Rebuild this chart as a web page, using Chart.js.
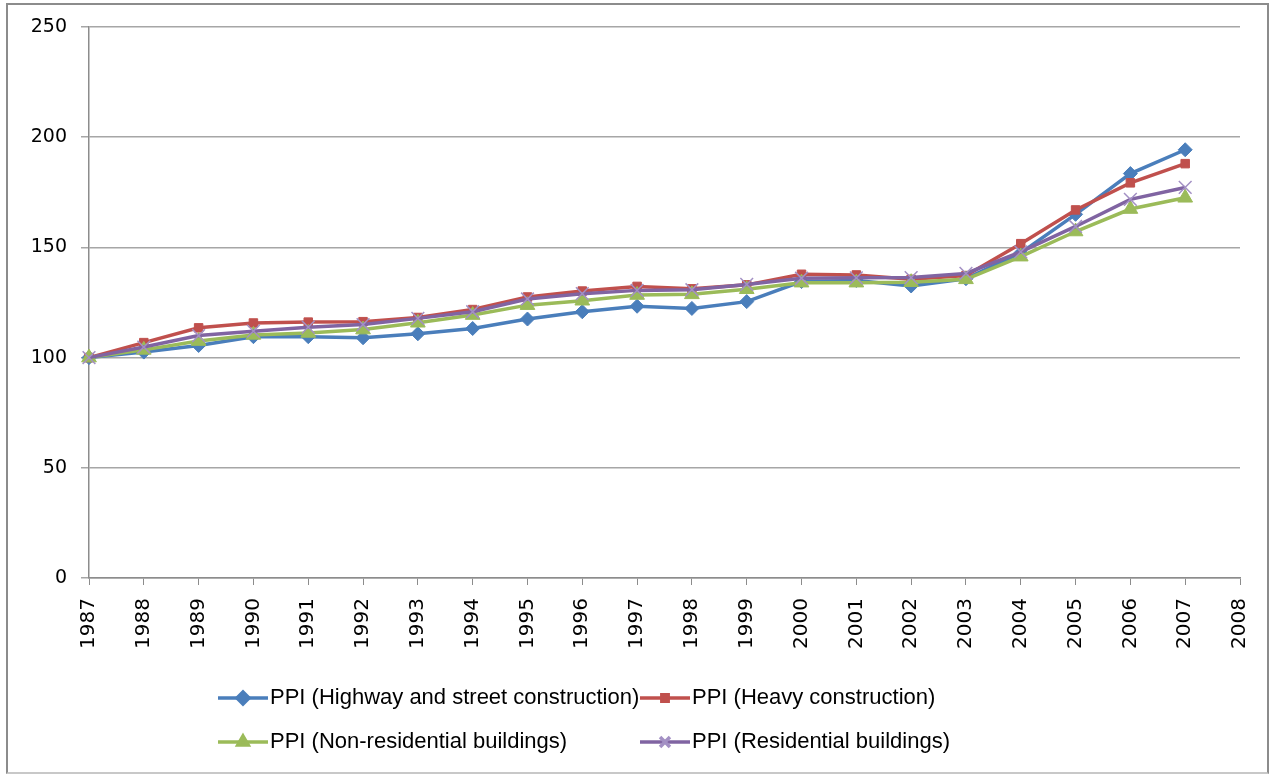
<!DOCTYPE html>
<html>
<head>
<meta charset="utf-8">
<script src="https://cdn.jsdelivr.net/npm/chart.js@4/dist/chart.umd.min.js"></script>
<style>
  html,body{margin:0;padding:0;background:#fff;}
  #wrap{position:relative;width:1270px;height:774px;}
  #frame{position:absolute;left:6px;top:3px;width:1259px;height:767px;border:2px solid #8c8c8c;border-bottom-color:#c8c8c8;pointer-events:none;}
  canvas{position:absolute;left:0;top:0;}
</style>
</head>
<body>
<div id="wrap">
  <canvas id="chart" width="1270" height="774"></canvas>
  <div id="frame"></div>
</div>
<script>
'use strict';
var years=['1987','1988','1989','1990','1991','1992','1993','1994','1995','1996','1997','1998','1999','2000','2001','2002','2003','2004','2005','2006','2007','2008'];
var highway=[100,102.5,105.5,109.5,109.5,109,110.8,113.2,117.5,120.8,123.3,122.3,125.4,134.5,135,132.5,135.8,147.5,165,183.5,194.3];
var heavy=[100,106.8,113.5,115.7,116.1,116.3,118.2,121.8,127.5,130.2,132.3,131.2,133,137.8,137.5,135.5,137.2,151.7,167,179.3,188];
var nonResidential=[100,103.5,107.5,110.3,111.2,112.7,115.8,119.3,123.8,125.8,128.4,128.7,131,134,134,134.2,135.5,145.8,157.2,167.4,172.5];
var residential=[100,104.8,110,112,113.8,115,117.8,120.8,126.6,129,130.5,130.8,133.2,136,136.2,136.3,138.2,148,159.5,171.8,177.2];
var seriesNames=['PPI (Highway and street construction)','PPI (Heavy construction)','PPI (Non-residential buildings)','PPI (Residential buildings)'];

// legend grid placement (two columns, two rows)
var legendCols=[218,640];
var legendRows=[698,742];

var gridLegend={
  id:'gridLegend',
  afterDraw:function(chart){
    var ctx=chart.ctx;
    chart.data.datasets.forEach(function(ds,i){
      var x=legendCols[i%2], y=legendRows[Math.floor(i/2)];
      ctx.save();
      ctx.strokeStyle=ds.borderColor;ctx.lineWidth=3.5;
      ctx.beginPath();ctx.moveTo(x,y);ctx.lineTo(x+50,y);ctx.stroke();
      ctx.fillStyle=ds.pointBackgroundColor;ctx.strokeStyle=ds.pointBorderColor;
      Chart.helpers.drawPoint(ctx,{pointStyle:ds.pointStyle,radius:ds.legendRadius,borderWidth:ds.pointBorderWidth,rotation:0},x+25,y);
      ctx.fillStyle='#000';ctx.font='22px "Liberation Sans"';ctx.textBaseline='middle';ctx.textAlign='left';
      ctx.fillText(ds.label,x+52,y);
      ctx.restore();
    });
  }
};

Chart.defaults.font.family='"DejaVu Sans"';
Chart.defaults.color='#000';

var ctx=document.getElementById('chart');
var chart=new Chart(ctx,{
  type:'line',
  data:{
    labels:years,
    datasets:[
      {label:seriesNames[0],data:highway,borderColor:'#4a7ebb',backgroundColor:'#4a7ebb',pointBackgroundColor:'#4a7ebb',pointBorderColor:'#4a7ebb',pointStyle:'rectRot',pointRadius:7,legendRadius:6,pointBorderWidth:1,borderWidth:3.5,order:4},
      {label:seriesNames[1],data:heavy,borderColor:'#c0504d',backgroundColor:'#c0504d',pointBackgroundColor:'#c0504d',pointBorderColor:'#c0504d',pointStyle:'rect',pointRadius:6,legendRadius:4.5,pointBorderWidth:1,borderWidth:3.5,order:3},
      {label:seriesNames[2],data:nonResidential,borderColor:'#9bbb59',backgroundColor:'#9bbb59',pointBackgroundColor:'#9bbb59',pointBorderColor:'#9bbb59',pointStyle:'triangle',pointRadius:8.5,legendRadius:6,pointBorderWidth:1,borderWidth:3.5,order:2},
      {label:seriesNames[3],data:residential,borderColor:'#8064a2',backgroundColor:'#8064a2',pointBackgroundColor:'#8064a2',pointBorderColor:'#a390c4',pointStyle:'crossRot',pointRadius:9,legendRadius:7,pointBorderWidth:1.5,borderWidth:3.5,order:1}
    ]
  },
  options:{
    responsive:false,
    animation:false,
    layout:{padding:{left:7,right:30,top:27,bottom:116}},
    plugins:{legend:{display:false},tooltip:{enabled:false}},
    elements:{line:{tension:0}},
    scales:{
      x:{
        type:'category',offset:false,
        grid:{drawOnChartArea:false,drawTicks:true,tickLength:7,color:'#8c8c8c'},
        border:{color:'#8c8c8c',width:1.5},
        ticks:{font:{size:20},minRotation:90,maxRotation:90,padding:13,autoSkip:false},
        afterFit:function(s){s.height=80;s.paddingLeft=0;s.paddingRight=0;}
      },
      y:{
        min:0,max:250,
        grid:{color:'#a6a6a6',lineWidth:1.5,tickLength:8},
        border:{color:'#8c8c8c',width:1.5},
        ticks:{stepSize:50,font:{size:19},padding:14},
        afterFit:function(s){s.width=82;}
      }
    }
  },
  plugins:[gridLegend]
});
</script>
</body>
</html>
